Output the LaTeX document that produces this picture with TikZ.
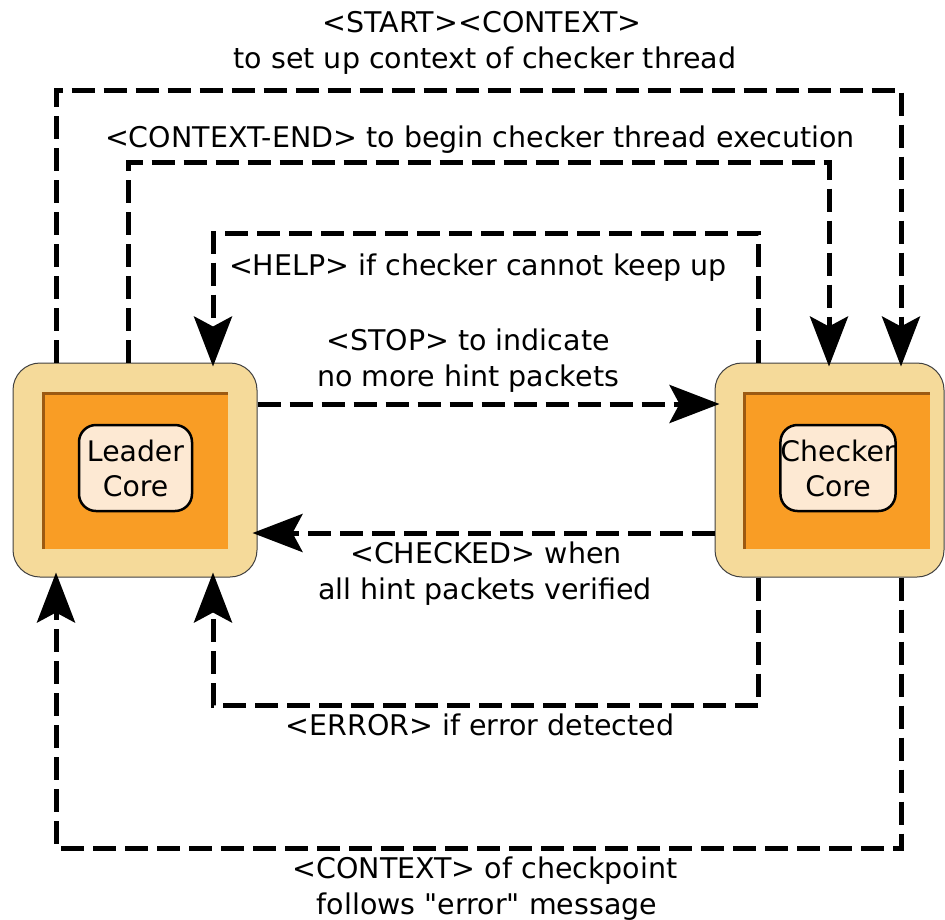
\documentclass[tikz,border=0pt]{standalone}
\usepackage{fontspec}
\setmainfont{DejaVu Sans}[Ligatures=TeXOff]
\usetikzlibrary{arrows.meta}
\definecolor{tanbox}{HTML}{F5DA9A}
\definecolor{orangebox}{HTML}{F99D25}
\definecolor{corefill}{HTML}{FDE9D3}
\definecolor{shadowbrown}{HTML}{9C5A12}
\begin{document}
\begin{tikzpicture}[x=1pt,y=-1pt,
  outerbox/.style={draw=black!75, line width=1pt, fill=tanbox, rounded corners=27pt, minimum height=214pt, inner sep=0pt},
  innerbox/.style={fill=orangebox, minimum width=186pt, minimum height=157pt, inner sep=0pt},
  corebox/.style={draw=black, line width=2.5pt, fill=corefill, rounded corners=17pt, minimum width=113pt, minimum height=86pt, inner sep=0pt, align=center, font=\fontsize{28.3}{35}\selectfont},
  shade/.style={draw=shadowbrown, line width=3pt},
  flow/.style={line width=5pt, dash pattern=on 23pt off 9pt, line join=miter},
  tip/.style={-{Stealth[length=50pt,width=38pt,inset=10pt]}},
  lbl/.style={anchor=base, font=\fontsize{28.5}{36}\selectfont, inner sep=0pt}
]
\useasboundingbox (0,0) rectangle (945,919);

% Leader
\node[outerbox, minimum width=244pt] (leader) at (135,470) {};
\node[innerbox] (leaderin) at (135,470.5) {};
\draw[shade] ([xshift=1.5pt]leaderin.south west) -- ([xshift=1.5pt,yshift=-1.5pt]leaderin.north west) -- ([yshift=-1.5pt]leaderin.north east);
\node[corebox] (leadercore) at (135.5,468) {Leader\\Core};

% Checker
\node[outerbox, minimum width=229pt] (checker) at (829.5,470) {};
\node[innerbox, minimum width=187pt] (checkerin) at (836.5,470.5) {};
\draw[shade] ([xshift=1.5pt]checkerin.south west) -- ([xshift=1.5pt,yshift=-1.5pt]checkerin.north west) -- ([yshift=-1.5pt]checkerin.north east);
\node[corebox] (checkercore) at (838,468) {Checker\\Core};

% connectors
\coordinate (sL) at (56,90); \coordinate (sR) at (901,90);
\draw[flow,tip,shorten >=-4pt] (leader.north -| sL) -- (sL) -- (sR) -- (checker.north -| sR);
\coordinate (eL) at (128,162); \coordinate (eR) at (829,162);
\draw[flow,tip,shorten >=-4pt] (leader.north -| eL) -- (eL) -- (eR) -- (checker.north -| eR);
\coordinate (hR) at (758,233); \coordinate (hL) at (213,233);
\draw[flow,tip,shorten >=-4pt] (checker.north -| hR) -- (hR) -- (hL) -- (leader.north -| hL);
\coordinate (st) at (486,404);
\draw[flow,tip,shorten >=-5pt] (leader.east |- st) -- (checker.west |- st);
\coordinate (ck) at (486,533);
\draw[flow,tip,shorten >=-5pt] (checker.west |- ck) -- (leader.east |- ck);
\coordinate (rR) at (758,705); \coordinate (rL) at (213,705);
\draw[flow,tip,shorten >=-5pt] (checker.south -| rR) -- (rR) -- (rL) -- (leader.south -| rL);
\coordinate (cR) at (901,848); \coordinate (cL) at (56,848);
\draw[flow,tip,shorten >=-5pt] (checker.south -| cR) -- (cR) -- (cL) -- (leader.south -| cL);

% labels
\node[lbl] (t1a) at (482,32) {<START><CONTEXT>};
\node[lbl] (t1b) at (485,68) {to set up context of checker thread};
\node[lbl] (t2) at (480,147) {<CONTEXT-END> to begin checker thread execution};
\node[lbl] (t3) at (478,275) {<HELP> if checker cannot keep up};
\node[lbl] (t4a) at (468,350) {<STOP> to indicate};
\node[lbl] (t4b) at (468,386) {no more hint packets};
\node[lbl] (t5a) at (486,563) {<CHECKED> when};
\node[lbl] (t5b) at (485,599) {all hint packets verified};
\node[lbl] (t6) at (480,735) {<ERROR> if error detected};
\node[lbl] (t7a) at (485,878) {<CONTEXT> of checkpoint};
\node[lbl] (t7b) at (487,914) {follows "error" message};
\end{tikzpicture}
\end{document}
